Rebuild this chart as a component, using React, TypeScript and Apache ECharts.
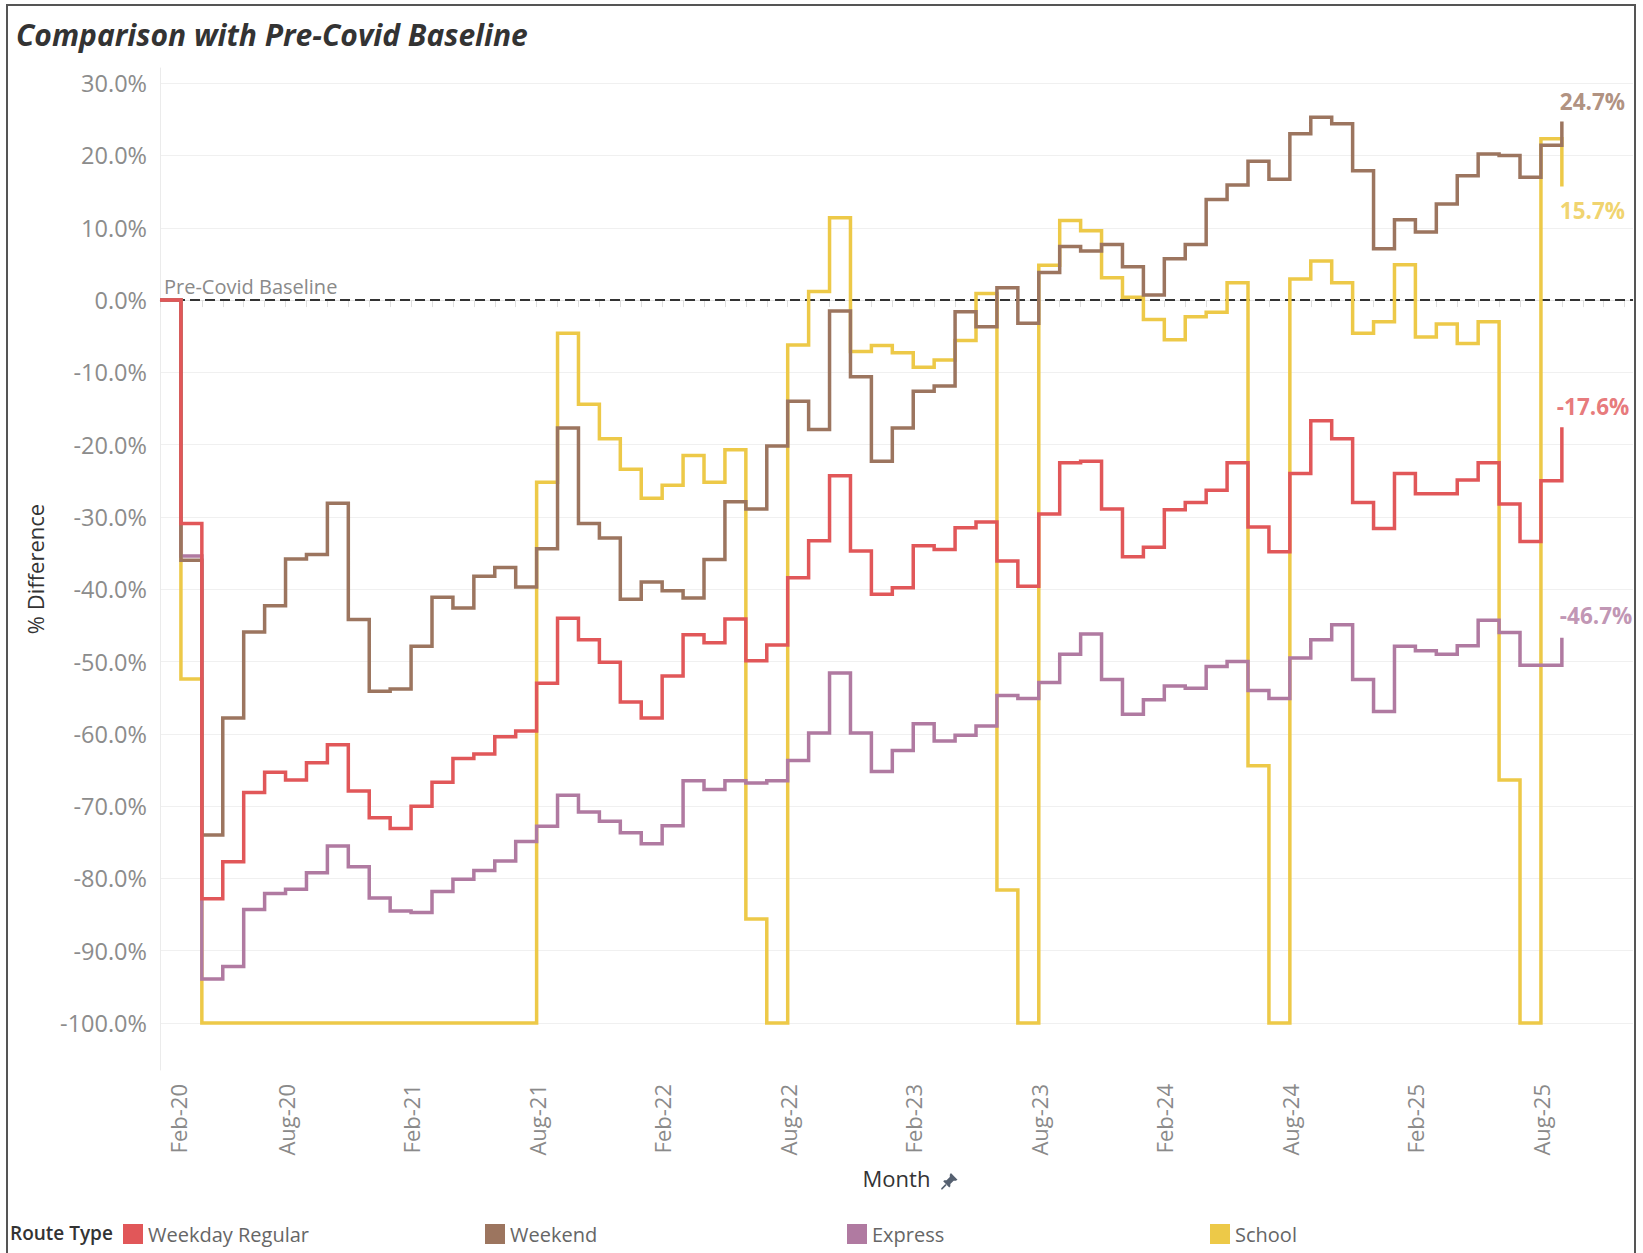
import React, { useEffect, useRef } from "react";
import * as echarts from "echarts";

// Month index 0 = Feb-20 ... 67 = Sep-25
const xTickIdx = [0, 6, 12, 18, 24, 30, 36, 42, 48, 54, 60, 66];
const xTickLabels = ["Feb-20", "Aug-20", "Feb-21", "Aug-21", "Feb-22", "Aug-22", "Feb-23", "Aug-23", "Feb-24", "Aug-24", "Feb-25", "Aug-25"];
const yTicks = [-100, -90, -80, -70, -60, -50, -40, -30, -20, -10, 0, 10, 20, 30];

const weekdayRegular = [
  0, -30.9, -82.8, -77.7, -68.1, -65.3, -66.4, -64.0, -61.5, -67.9, -71.6, -73.1,
  -70.0, -66.7, -63.4, -62.8, -60.4, -59.6, -53.0, -44.0, -47.0, -50.1, -55.6, -57.8,
  -52.0, -46.3, -47.4, -44.1, -49.9, -47.7, -38.4, -33.3, -24.3, -34.7, -40.7, -39.8,
  -34.0, -34.5, -31.5, -30.7, -36.1, -39.6, -29.6, -22.5, -22.3, -28.9, -35.5, -34.2,
  -29.0, -28.0, -26.3, -22.5, -31.4, -34.8, -24.0, -16.7, -19.2, -28.0, -31.6, -24.0,
  -26.8, -26.8, -24.9, -22.5, -28.2, -33.4, -25.0, -17.6,
];
const weekend = [
  0, -36.0, -74.0, -57.8, -45.9, -42.3, -35.8, -35.2, -28.1, -44.2, -54.1, -53.8,
  -47.9, -41.1, -42.6, -38.2, -37.0, -39.7, -34.4, -17.7, -30.9, -32.9, -41.4, -39.0,
  -40.2, -41.2, -35.9, -27.9, -28.9, -20.2, -14.0, -17.9, -1.5, -10.6, -22.3, -17.7,
  -12.6, -11.9, -1.6, -3.7, 1.7, -3.2, 3.8, 7.4, 6.8, 7.7, 4.6, 0.7,
  5.7, 7.7, 13.9, 15.9, 19.2, 16.7, 23.0, 25.3, 24.4, 17.9, 7.1, 11.1,
  9.4, 13.3, 17.2, 20.2, 20.0, 17.0, 21.4, 24.7,
];
const express = [
  0, -35.4, -93.9, -92.2, -84.3, -82.1, -81.5, -79.2, -75.5, -78.4, -82.7, -84.5,
  -84.7, -81.8, -80.1, -78.9, -77.6, -74.9, -72.8, -68.5, -70.8, -72.1, -73.7, -75.2,
  -72.7, -66.5, -67.7, -66.5, -66.8, -66.5, -63.7, -59.9, -51.6, -59.9, -65.2, -62.3,
  -58.6, -61.0, -60.2, -58.9, -54.7, -55.1, -52.9, -49.0, -46.2, -52.5, -57.3, -55.3,
  -53.4, -53.7, -50.7, -50.0, -54.0, -55.1, -49.5, -47.0, -44.9, -52.5, -56.9, -47.9,
  -48.5, -49.0, -47.8, -44.3, -46.0, -50.5, -50.5, -46.7,
];
const school = [
  0, -52.4, -100, -100, -100, -100, -100, -100, -100, -100, -100, -100,
  -100, -100, -100, -100, -100, -100, -25.2, -4.6, -14.4, -19.2, -23.4, -27.4,
  -25.6, -21.5, -25.2, -20.7, -85.6, -100, -6.2, 1.2, 11.4, -7.1, -6.3, -7.3,
  -9.3, -8.3, -5.6, 0.9, -81.6, -100, 4.8, 11.0, 9.6, 3.1, 0.4, -2.7,
  -5.5, -2.3, -1.7, 2.4, -64.4, -100, 2.9, 5.4, 2.4, -4.6, -3.0, 4.9,
  -5.1, -3.3, -6.0, -3.0, -66.4, -100, 22.3, 15.7,
];

const FONT = "'Open Sans', 'Noto Sans', sans-serif";

const seriesDefs = [
  { name: "Weekday Regular", values: weekdayRegular, color: "#E15759", labelPos: "top", labelOffset: [-5, -4] },
  { name: "Weekend", values: weekend, color: "#9C755F", labelPos: "top", labelOffset: [-2, -3] },
  { name: "Express", values: express, color: "#B07AA1", labelPos: "top", labelOffset: [-2, -5] },
  { name: "School", values: school, color: "#EDC948", labelPos: "bottom", labelOffset: [-2, 7] },
];
const legendLeft = [118, 480, 842, 1205];

const PIN =
  "M9 1 L15 7 L13.5 8 L11.5 8 L8.5 11 L8.5 13 L7.5 14 L2 8.5 L3 7.5 L5 7.5 L8 4.5 L8 2.5 Z M4 11 L5 12 L1.2 15.8 L0.2 15.8 L0.2 14.8 Z";
echarts.graphic.registerShape("pin", echarts.graphic.extendPath(PIN, {}) as any);

function buildOption() {
  const lastIdx = weekdayRegular.length - 1;
  const drawOrder = [...seriesDefs].reverse(); // first legend item drawn on top
  const lineSeries = drawOrder.map((s, k) => ({
    type: "line",
    name: s.name,
    step: "end",
    showSymbol: false,
    symbol: "none",
    silent: true,
    color: s.color,
    lineStyle: { width: 3.5, color: s.color, join: "miter", cap: "butt" },
    data: s.values.map((v, i) => [i, v]),
    z: 2 + k,
    markLine:
      k === 0
        ? {
            silent: true,
            symbol: ["none", "none"],
            z: 1,
            lineStyle: { type: [10, 5], color: "#333333", width: 2.2 },
            label: {
              show: true,
              position: "insideStartTop",
              formatter: "Pre-Covid Baseline",
              color: "#8a8a8a",
              fontSize: 20,
              fontFamily: FONT,
              distance: 4,
            },
            data: [{ yAxis: 0 }],
          }
        : undefined,
  }));

  const endLabels = {
    type: "scatter",
    name: "end-labels",
    silent: true,
    symbolSize: 1,
    itemStyle: { color: "rgba(0,0,0,0)" },
    z: 20,
    data: seriesDefs.map((s) => ({
      value: [lastIdx, s.values[lastIdx]],
      label: {
        show: true,
        position: s.labelPos,
        align: "left",
        offset: s.labelOffset,
        formatter: (p: any) => `${p.value[1].toFixed(1)}%`,
        color: s.color,
        fontWeight: "bold",
        fontSize: 22.5,
        fontFamily: FONT,
      },
    })),
  };

  const xLabelPos = xTickIdx.map((t, k) => (k === 0 ? t + 0.85 : t));
  const monthTicks: number[] = [];
  for (let m = 0; m <= 70; m++) monthTicks.push(m);

  return {
    animation: false,
    backgroundColor: "#ffffff",
    title: [
      {
        text: "Comparison with Pre-Covid Baseline",
        left: 11,
        top: 14,
        textStyle: {
          fontFamily: FONT,
          fontStyle: "italic",
          fontWeight: "bold",
          fontSize: 30,
          color: "#333333",
        },
      },
      {
        text: "Route Type",
        left: 5,
        top: 1218,
        textStyle: { fontFamily: FONT, fontWeight: 600, fontSize: 19, color: "#333333" },
      },
    ],
    legend: seriesDefs.map((s, k) => ({
      data: [s.name],
      left: legendLeft[k],
      top: 1219,
      icon: "rect",
      itemWidth: 20,
      itemHeight: 20,
      selectedMode: false,
      textStyle: { fontFamily: FONT, fontSize: 20, color: "#666666" },
    })),
    grid: { left: 160, right: 10, top: 68, bottom: 183 },
    xAxis: {
      type: "value",
      min: 0,
      max: 70.4,
      name: "Month",
      nameLocation: "middle",
      nameGap: 97,
      nameTextStyle: { fontFamily: FONT, fontSize: 22, color: "#333333" },
      axisLine: { show: true, lineStyle: { color: "#e4e4e4", width: 1 } },
      axisTick: { show: true, customValues: monthTicks, length: 7, lineStyle: { color: "#dedede" } },
      axisLabel: {
        customValues: xLabelPos,
        rotate: 90,
        margin: 14,
        fontSize: 22,
        fontFamily: FONT,
        color: "#8a8a8a",
        formatter: (v: number) => {
          const k = xTickIdx.findIndex((t) => Math.abs(t - v) < 1);
          return k >= 0 ? xTickLabels[k] : "";
        },
      },
      splitLine: { show: false },
    },
    yAxis: {
      type: "value",
      min: -106.5,
      max: 32.1,
      name: "% Difference",
      nameLocation: "middle",
      nameRotate: 90,
      nameGap: 114,
      nameTextStyle: { fontFamily: FONT, fontSize: 22, color: "#333333" },
      axisLine: { show: true, lineStyle: { color: "#ebebeb", width: 1 } },
      axisTick: { show: false, customValues: yTicks },
      axisLabel: {
        customValues: yTicks,
        margin: 13,
        fontSize: 23.5,
        fontFamily: FONT,
        color: "#8c8c8c",
        formatter: (v: number) => `${v.toFixed(1)}%`,
      },
      splitLine: { show: true, lineStyle: { color: "#f0f0f0", width: 1 } },
    },
    series: [...lineSeries, endLabels],
    graphic: [
      {
        type: "rect",
        shape: { x: 7, y: 5, width: 1628, height: 1300 },
        style: { fill: "none", stroke: "#555555", lineWidth: 2 },
        silent: true,
        z: 100,
      },
      {
        type: "pin",
        x: 941,
        y: 1172,
        scaleX: 1.1,
        scaleY: 1.1,
        style: { fill: "#556070" },
        silent: true,
      },
    ],
  };
}

export default function App() {
  const ref = useRef<HTMLDivElement>(null);
  useEffect(() => {
    if (!ref.current) return;
    const chart = echarts.init(ref.current, null, { renderer: "svg" });
    chart.setOption(buildOption() as any);
    return () => chart.dispose();
  }, []);
  return (
    <div
      ref={ref}
      style={{ position: "fixed", left: 0, top: 0, width: 1643, height: 1253, background: "#ffffff" }}
    />
  );
}
